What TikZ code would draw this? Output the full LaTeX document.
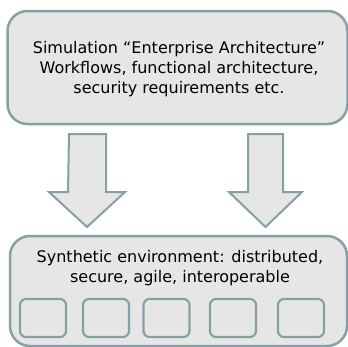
\documentclass[tikz,border=0pt]{standalone}
\usepackage{fontspec}
\setmainfont{DejaVu Sans}
\definecolor{boxfill}{HTML}{E6E6E6}
\definecolor{boxline}{HTML}{85A1A5}
\begin{document}
\begin{tikzpicture}[x=1pt,y=-1pt,
  txt/.style={font=\fontsize{16}{20}\selectfont,align=center,inner sep=0pt},
  bigbox/.style={draw=boxline,fill=boxfill,line width=2.5pt,rounded corners=20pt,inner sep=0pt},
  smallbox/.style={draw=boxline,fill=boxfill,line width=2.2pt,rounded corners=6pt,minimum width=46pt,minimum height=38pt,inner sep=0pt},
  fatarrow/.style={draw=boxline,fill=boxfill,line width=2pt,line join=miter}]
\useasboundingbox (0,0) rectangle (348,346);
\node[bigbox,minimum width=340pt,minimum height=113pt] (top) at (177.5,67.5) {};
\node[txt] (toptxt) at (179,69) {Simulation “Enterprise Architecture”\\Workflows, functional architecture,\\security requirements etc.};
\node[bigbox,minimum width=337pt,minimum height=110pt] (bot) at (178.5,291) {};
\node[txt] (bottxt) at (180,268) {Synthetic environment: distributed,\\secure, agile, interoperable};
\node[smallbox] (s1) at (43,318) {};
\node[smallbox] (s2) at (106,318) {};
\node[smallbox] (s3) at (166.5,318) {};
\node[smallbox] (s4) at (233,318) {};
\node[smallbox] (s5) at (301,318) {};
\coordinate (la) at (87.5,134);
\coordinate (ra) at (265.5,134);
\draw[fatarrow] (la) ++(-18.5,0) -- ++(37,0) -- ++(0,58) -- ++(19,0) -- ++(-38,35) -- ++(-38,-35) -- ++(19,0) -- cycle;
\draw[fatarrow] (ra) ++(-17.5,0) -- ++(35,0) -- ++(0,58) -- ++(19,0) -- ++(-36.5,35) -- ++(-36.5,-35) -- ++(19,0) -- cycle;
\end{tikzpicture}
\end{document}
